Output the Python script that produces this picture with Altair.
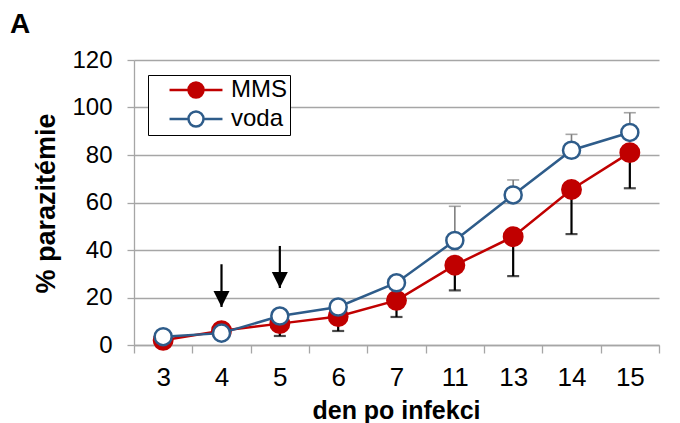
import altair as alt
import pandas as pd

# ---- data ----
days = ["3", "4", "5", "6", "7", "11", "13", "14", "15"]
mms = [2.0, 6.0, 9.0, 12.0, 18.8, 33.6, 45.6, 65.5, 81.0]
mms_err_low = [2.0, 6.0, 3.8, 5.9, 11.8, 23.0, 29.0, 46.7, 66.0]
voda = [3.5, 5.0, 12.2, 16.0, 26.2, 44.0, 63.2, 82.0, 89.5]
voda_err_high = [3.5, 5.0, 12.2, 16.0, 26.2, 58.4, 69.5, 88.7, 97.8]
series_names = ["MMS", "voda"]
arrow_days = ["4", "5"]
arrow_top = [34.0, 41.7]
arrow_tip = [16.0, 24.0]
y_ticks = [0, 20, 40, 60, 80, 100, 120]

rows = []
for d, v, e in zip(days, mms, mms_err_low):
    rows.append({"den": d, "series": "MMS", "value": v, "err": e})
for d, v, e in zip(days, voda, voda_err_high):
    rows.append({"den": d, "series": "voda", "value": v, "err": e})
df = pd.DataFrame(rows)
arrows = pd.DataFrame({"den": arrow_days, "top": arrow_top, "tip": arrow_tip})

FONT = "Liberation Sans"
RED = "#C00000"
BLUE = "#2E5C8A"
GRID = "#A6A6A6"

x_enc = alt.X(
    "den:N",
    sort=days,
    bandPosition=0.5,
    scale=alt.Scale(type="band", domain=days, range=[0, 525], paddingInner=0, paddingOuter=0),
    axis=alt.Axis(
        title="den po infekci", labelAngle=0, tickBand="extent",
        labelFont=FONT, labelFontSize=26, labelColor="black", labelPadding=11,
        tickSize=8, tickColor=GRID, domainColor=GRID, domainWidth=1.3, tickWidth=1.3,
        titleFont=FONT, titleFontSize=25, titleFontWeight="bold", titleColor="black",
        titleX=262, titleY=73, titleBaseline="alphabetic", titleAlign="center",
    ),
)
y_scale = alt.Scale(domain=[0, 120])
y_axis = alt.Axis(
    values=y_ticks, title="% parazitémie", grid=True, gridColor=GRID, gridWidth=1.3,
    labelFont=FONT, labelFontSize=24, labelColor="black", labelPadding=15,
    tickSize=7, tickColor=GRID, domainColor=GRID, domainWidth=1.3, tickWidth=1.3,
    titleFont=FONT, titleFontSize=27, titleFontWeight="bold", titleColor="black",
    titleX=-88, titleY=143, titleAngle=270, titleAlign="center", titleBaseline="middle",
)

legend_path = "M-3.53,0L-1,0M1,0L3.53,0M1,0A1,1,0,1,1,-1,0A1,1,0,1,1,1,0Z"
legend = alt.Legend(
    title=None, orient="none", legendX=14, legendY=15,
    symbolType=legend_path, symbolSize=225, symbolStrokeWidth=2.5,
    labelFont=FONT, labelFontSize=24, labelColor="black",
    labelExpr="datum.label + '    '",
    strokeColor="black", fillColor="white", padding=3, rowPadding=3,
    symbolOffset=33, labelOffset=23,
)
fill_enc = alt.Fill("series:N", scale=alt.Scale(domain=series_names, range=[RED, "white"]), legend=legend)
stroke_enc = alt.Stroke("series:N", scale=alt.Scale(domain=series_names, range=[RED, BLUE]), legend=legend)

base = alt.Chart(df)


def series_layers(name, color, err_color, err_width, size):
    src = base.transform_filter(alt.datum.series == name)
    line = src.mark_line(color=color, strokeWidth=2.5).encode(
        x=x_enc, y=alt.Y("value:Q", scale=y_scale, axis=y_axis))
    rule = src.mark_rule(color=err_color, strokeWidth=err_width).encode(
        x=x_enc, y="value:Q", y2="err:Q")
    cap = src.mark_tick(color=err_color, thickness=err_width, size=12, orient="horizontal").encode(
        x=x_enc, y="err:Q")
    pts = src.mark_point(shape="circle", filled=True, size=size, strokeWidth=2.5, opacity=1).encode(
        x=x_enc, y="value:Q", fill=fill_enc, stroke=stroke_enc)
    return [line, rule, cap, pts]


arrow_base = alt.Chart(arrows)
arrow_shaft = arrow_base.mark_rule(color="black", strokeWidth=2.2).encode(
    x=x_enc, y="top:Q", y2="tip:Q")
arrow_head = arrow_base.mark_point(
    shape="M-1,-2L1,-2L0,0Z", size=256, filled=True, color="black", opacity=1
).encode(x=x_enc, y="tip:Q")

layers = series_layers("MMS", RED, "black", 2.2, 340) + series_layers("voda", BLUE, "#7F7F7F", 1.6, 290)
layers += [arrow_shaft, arrow_head]

chart = alt.layer(*layers).properties(
    width=538, height=285,
    autosize=alt.AutoSizeParams(type="none"),
    padding={"left": 126, "top": 52, "right": 0, "bottom": 78},
    title=alt.TitleParams("A", anchor="start", frame="group", font=FONT, fontSize=28,
                          fontWeight="bold", color="black", dx=-124, offset=9),
).configure_view(stroke=None).configure_point(opacity=1)

chart.save("out.html", embed_options={"renderer": "svg", "actions": False})
